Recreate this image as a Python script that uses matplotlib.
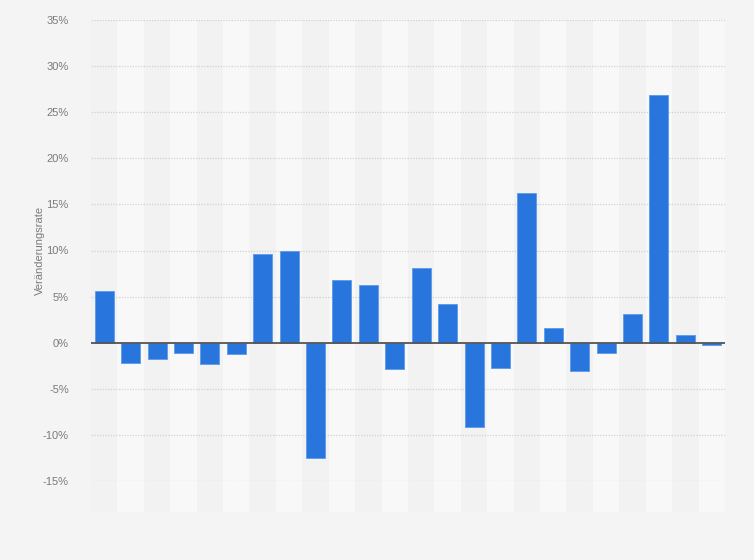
import matplotlib
matplotlib.use("Agg")
import matplotlib.pyplot as plt
import matplotlib.transforms as mtransforms
from matplotlib.patches import Rectangle
import numpy as np

values = [5.6, -2.2, -1.8, -1.1, -2.35, -1.25, 9.6, 9.9, -12.5, 6.75, 6.3, -2.8,
          8.1, 4.2, -9.15, -2.7, 16.2, 1.6, -3.1, -1.1, 3.15, 26.85, 0.87, -0.28]
categories = [str(i) for i in range(1, len(values) + 1)]
yticks = [-15, -10, -5, 0, 5, 10, 15, 20, 25, 30, 35]
ylabel = "Veränderungsrate"

plt.rcParams["font.family"] = ["Liberation Sans", "DejaVu Sans"]

W, H = 754, 560
fig = plt.figure(figsize=(W / 100, H / 100), dpi=100, facecolor="#f4f4f4")
left, right, top, bottom = 91, 725, 20, 481
ax = fig.add_axes([left / W, 1 - bottom / H, (right - left) / W, (bottom - top) / H])
ax.set_facecolor("#f4f4f4")

n = len(values)
x = np.arange(n)
# alternating column stripes (extend a bit below the plot like the reference)
trans = mtransforms.blended_transform_factory(ax.transData, ax.transAxes)
ext = 31 / (bottom - top)
for i in range(n):
    color = "#f2f2f2" if i % 2 == 0 else "#f8f8f8"
    ax.add_patch(Rectangle((i - 0.5, -ext), 1, 1 + ext, transform=trans,
                           facecolor=color, lw=0, zorder=0, clip_on=False))

ax.set_xlim(-0.5, n - 0.5)
ax.set_ylim(-15, 35)

for yv in yticks:
    if yv != 0:
        ax.axhline(yv, color="#d2d2d2", lw=0.9, ls=(0, (1, 1.2)), zorder=1)

ax.bar(x, values, width=0.72, color="#2876dd", edgecolor="#5b9ae8", linewidth=0.6, zorder=3)
ax.axhline(0, color="#555555", lw=1.3, zorder=4)

ax.set_xticks([])
ax.set_yticks(yticks)
ax.set_yticklabels([f"{v}%" for v in yticks], color="#7a7a7a", fontsize=8)
ax.tick_params(axis="y", length=0, pad=16)
for s in ax.spines.values():
    s.set_visible(False)

fig.text(40 / W, 1 - 250 / H, ylabel, rotation=90, ha="center", va="center",
         color="#7a7a7a", fontsize=8)

fig.savefig("out.png", dpi=100, facecolor=fig.get_facecolor())
